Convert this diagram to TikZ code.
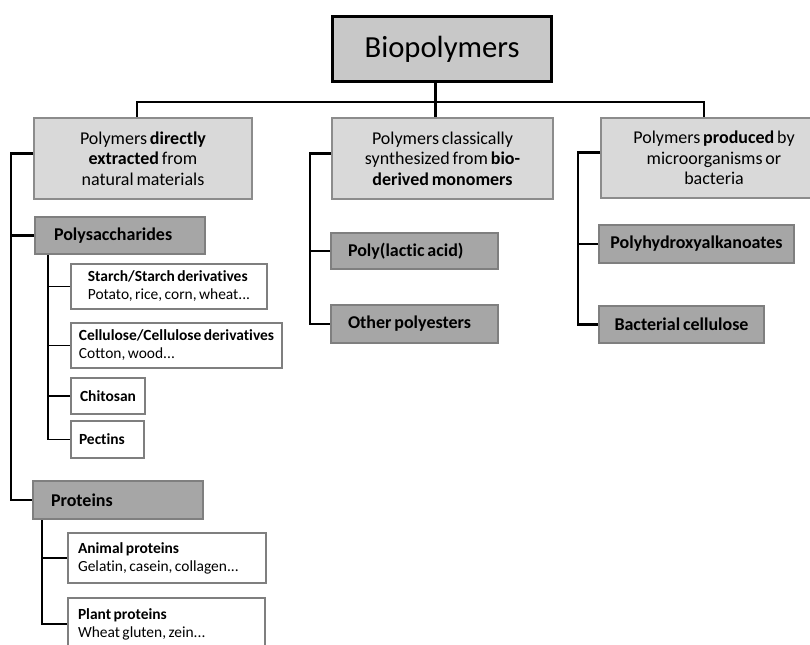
\documentclass[tikz,border=0pt]{standalone}
\usepackage{fontspec}
\setmainfont{Carlito}[WordSpace=0.7, Ligatures=NoCommon]
\usepackage{tikz}
\definecolor{topgray}{HTML}{C8C8C8}
\definecolor{catgray}{HTML}{D9D9D9}
\definecolor{catline}{HTML}{8C8C8C}
\definecolor{groupgray}{HTML}{A6A6A6}
\definecolor{groupline}{HTML}{7F7F7F}
\definecolor{leafline}{HTML}{7F7F7F}

\begin{document}
\begin{tikzpicture}[x=0.75pt, y=-0.75pt,
  link/.style={line width=2.1pt},
  sublink/.style={line width=1.2pt},
  topbox/.style={draw=black, line width=2.4pt, fill=topgray, anchor=north west, font=\fontsize{23}{27}\selectfont},
  catbox/.style={draw=catline, line width=1.5pt, fill=catgray, anchor=north west, align=center, font=\fontsize{13.5}{15.5}\selectfont},
  groupbox/.style={draw=groupline, line width=1.5pt, fill=groupgray, anchor=north west, align=flush left, font=\bfseries\fontsize{13.5}{15.5}\selectfont},
  leafbox/.style={draw=leafline, line width=1.5pt, fill=white, anchor=north west, align=flush left, font=\fontsize{11.6}{13.5}\selectfont}
]
\clip (0,0) rectangle (810,645);

%% top
\node[topbox, minimum width=164.25pt, minimum height=48.75pt] (bio) at (331,15) {Biopolymers};

%% categories
\node[catbox, minimum width=163.5pt, minimum height=60.75pt] (direct) at (33,117)
  {Polymers \textbf{directly}\\\textbf{extracted} from\\natural materials};
\node[catbox, minimum width=165.75pt, minimum height=60.75pt] (classic) at (331,117)
  {Polymers classically\\synthesized from \textbf{bio-}\\\textbf{derived monomers}};
\node[catbox, minimum width=169.5pt, minimum height=60pt] (produced) at (600,117)
  {Polymers \textbf{produced} by\\microorganisms or\\bacteria};

%% left column
\node[groupbox, inner xsep=14.25pt, text width=99pt, minimum height=27.75pt] (polysac) at (34,216) {Polysaccharides};
\node[leafbox, align=left, minimum width=147pt, minimum height=33.75pt] (starch) at (70,263)
  {\textbf{Starch/Starch derivatives}\\Potato, rice, corn, wheat...};
\node[leafbox, align=left, minimum width=158.25pt, minimum height=33.75pt] (cellulose) at (70,322)
  {\textbf{Cellulose/Cellulose derivatives}\\Cotton, wood...};
\node[leafbox, align=left, minimum width=55.5pt, minimum height=27pt] (chitosan) at (70,377) {\textbf{Chitosan}};
\node[leafbox, inner xsep=6pt, text width=42.75pt, minimum height=27.75pt] (pectins) at (70,420) {\textbf{Pectins}};

\node[groupbox, inner xsep=13.5pt, text width=100.5pt, minimum height=28.5pt] (proteins) at (32,480) {Proteins};
\node[leafbox, inner xsep=7.5pt, text width=133.5pt, minimum height=37.5pt] (animal) at (67,532)
  {\textbf{Animal proteins}\\Gelatin, casein, collagen...};
\node[leafbox, inner xsep=7.5pt, text width=132.75pt, minimum height=39pt] (plant) at (67,597)
  {\textbf{Plant proteins}\\Wheat gluten, zein...};

%% middle column
\node[groupbox, inner xsep=12.75pt, text width=99.75pt, minimum height=27pt] (pla) at (330,232) {Poly(lactic acid)};
\node[groupbox, inner xsep=12.75pt, text width=99.75pt, minimum height=28.5pt] (otherpoly) at (330,304) {Other polyesters};

%% right column
\node[groupbox, align=center, minimum width=146.25pt, minimum height=28.5pt] (pha) at (598,224) {Polyhydroxyalkanoates};
\node[groupbox, align=center, minimum width=123.75pt, minimum height=27.75pt] (bactcell) at (598,305) {Bacterial cellulose};

%% links
\draw[link] ([xshift=-5.25pt]bio.south) -- ([xshift=-5.25pt]bio.south |- classic.north);
\draw[link] ([xshift=-4.5pt]direct.north) -- ++(0,-15) -| ([xshift=-7.5pt]produced.north);

\draw[link] ([yshift=4pt]direct.west) -- ++(-22,0) coordinate (lspine) |- (proteins.west);
\draw[link] (polysac.west) -- (polysac.west -| lspine);

\draw[link] ([yshift=4pt]classic.west) -- ++(-21,0) coordinate (mspine) |- (otherpoly.west);
\draw[link] (pla.west) -- (pla.west -| mspine);

\draw[link] ([yshift=4pt]produced.west) -- ++(-22,0) coordinate (rspine) |- (bactcell.west);
\draw[link] (pha.west) -- (pha.west -| rspine);

\draw[sublink] ([xshift=10.5pt]polysac.south west) coordinate (pspine) |- (pectins.west);
\foreach \n in {starch,cellulose,chitosan}
  \draw[sublink] (\n.west) -- (\n.west -| pspine);

\draw[sublink] ([xshift=7.5pt]proteins.south west) coordinate (prspine) |- (plant.west);
\draw[sublink] (animal.west) -- (animal.west -| prspine);
\end{tikzpicture}
\end{document}
